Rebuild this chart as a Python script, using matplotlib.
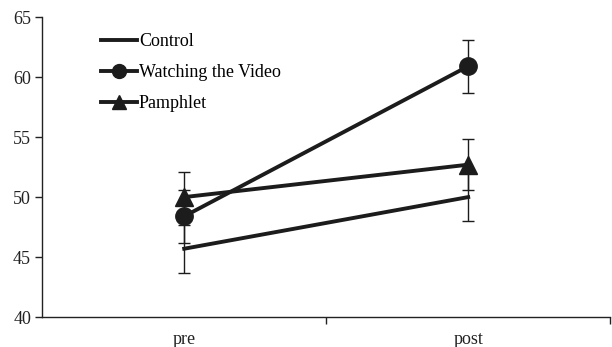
import numpy as np
import matplotlib.pyplot as plt

plt.rcParams['font.family'] = ['Liberation Serif', 'DejaVu Serif']

phases = ['pre', 'post']
control = [45.7, 50.0]
control_err = [2.0, 2.0]
video = [48.4, 60.9]
video_err = [2.2, 2.2]
pamphlet = [50.0, 52.7]
pamphlet_err = [2.1, 2.15]

fig = plt.figure(figsize=(6.12, 3.47), dpi=100)
ax = fig.add_axes([0.069, 0.086, 0.928, 0.865])

x = np.arange(len(phases))
ink = '#1c1c1c'
series = [('Control', control, control_err, None, 0),
          ('Watching the Video', video, video_err, 'o', 12.5),
          ('Pamphlet', pamphlet, pamphlet_err, '^', 12.5)]
for name, vals, err, mk, ms in series:
    ax.errorbar(x, vals, yerr=err, fmt='none', ecolor=ink, elinewidth=1.0,
                capsize=4, capthick=1.0, zorder=2)
    ax.plot(x, vals, color=ink, lw=2.8, marker=mk, markersize=ms,
            label=name, zorder=3)

ax.set_ylim(40, 65)
ax.set_yticks(np.arange(40, 66, 5))
ax.set_xlim(-0.5, 1.5)
ax.set_xticks([0.5, 1.5])
ax.set_xticklabels([])
ax.set_xticks(x, minor=True)
ax.set_xticklabels(phases, minor=True)
ax.tick_params(axis='x', which='minor', length=0, pad=10)
ax.tick_params(axis='x', which='major', length=5, width=1, direction='out')
ax.tick_params(axis='y', length=5, width=1, direction='out', pad=3)
ax.tick_params(which='both', labelsize=13, colors='#222222')

for side in ['top', 'right']:
    ax.spines[side].set_visible(False)
for side in ['left', 'bottom']:
    ax.spines[side].set_linewidth(1.0)
    ax.spines[side].set_color('#222222')

ax.legend(loc='upper left', bbox_to_anchor=(0.075, 1.0), frameon=False,
          fontsize=13, handlelength=2.0, handletextpad=0.1,
          labelspacing=0.78, markerscale=0.8)

fig.savefig('out.png', dpi=100)
